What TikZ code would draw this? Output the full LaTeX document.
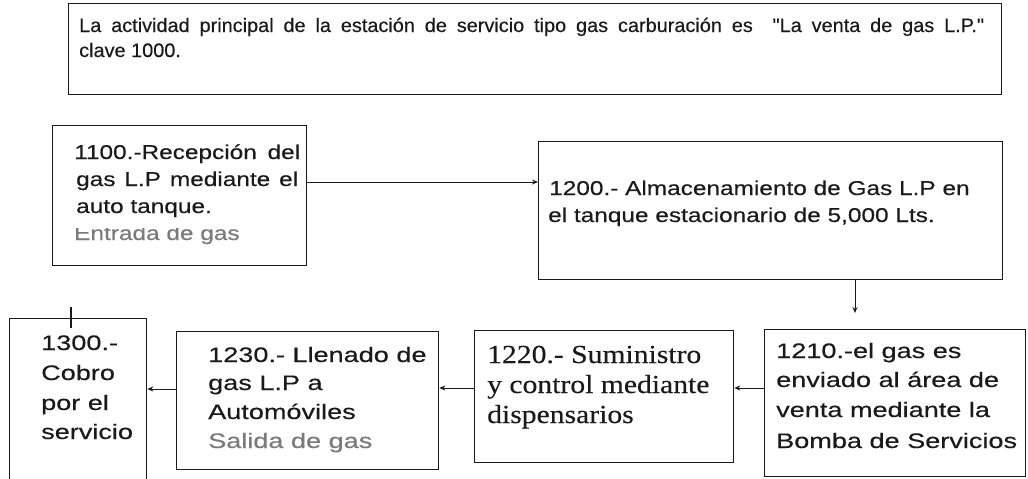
\documentclass[tikz,border=0pt]{standalone}
\usepackage{fontspec}
\usetikzlibrary{arrows.meta}
\newfontfamily\fTop[FakeStretch=1.02,FakeBold=0.3]{Liberation Sans}
\newfontfamily\fMid[FakeStretch=1.22,FakeBold=0.3]{Liberation Sans}
\newfontfamily\fBot[FakeStretch=1.29,FakeBold=0.3]{Liberation Sans}
\newfontfamily\fSerif[FakeStretch=1.14,FakeBold=0.3]{Liberation Serif}
\definecolor{ink}{HTML}{1A1A1A}
\definecolor{graytext}{HTML}{7A7A7A}
\tikzset{
  box/.style={draw=ink, line width=1.3pt, rectangle, inner sep=0pt, anchor=north west},
  ln/.style={anchor=base west, inner sep=0pt, text=ink},
  toptxt/.style={ln, font=\fTop\fontsize{19.5}{22}\selectfont},
  midtxt/.style={ln, font=\fMid\fontsize{20}{24}\selectfont},
  bottxt/.style={ln, font=\fBot\fontsize{21}{25}\selectfont},
  sertxt/.style={ln, font=\fSerif\fontsize{26}{28}\selectfont},
  arr/.style={draw=ink, line width=1pt, -{Stealth[length=6pt,width=5pt]}},
  tick/.style={draw=ink, line width=1.2pt}
}
\begin{document}
\begin{tikzpicture}[x=1pt,y=-1pt]
\useasboundingbox[fill=white] (0,0) rectangle (1028,479);
% boxes
\node[box, minimum width=933pt, minimum height=91pt] (btop) at (68,3) {};
\node[box, minimum width=254pt, minimum height=140pt] (b1100) at (52,125) {};
\node[box, minimum width=464pt, minimum height=138pt] (b1200) at (538,141) {};
\node[box, minimum width=137pt, minimum height=166pt] (b1300) at (9,318) {};
\node[box, minimum width=262pt, minimum height=138pt] (b1230) at (176,331) {};
\node[box, minimum width=259pt, minimum height=132pt] (b1220) at (474,330) {};
\node[box, minimum width=261pt, minimum height=147pt] (b1210) at (764,329) {};
% top text
\node[toptxt] (t0a) at (79,32) {\makebox[905pt][s]{La actividad principal de la estación de servicio tipo gas carburación es\ \ "La venta de gas L.P."}};
\node[toptxt] (t0b) at (79,57) {clave 1000.};
% 1100
\node[midtxt] (t1a) at (74,159) {\makebox[226pt][s]{1100.-Recepción del}};
\node[midtxt] (t1b) at (76,186) {\makebox[222pt][s]{gas L.P mediante el}};
\node[midtxt] (t1c) at (76,213) {auto tanque.};
\begin{scope}
\clip (60,228) rectangle (300,260);
\node[midtxt, text=graytext] (t1d) at (74,240) {Entrada de gas};
\end{scope}
% 1200
\node[midtxt] (t2a) at (549,195) {1200.- Almacenamiento de Gas L.P en};
\node[midtxt] (t2b) at (548,222) {el tanque estacionario de 5,000 Lts.};
% 1210
\node[bottxt] (t3a) at (776,358) {1210.-el gas es};
\node[bottxt] (t3b) at (776,387) {enviado al área de};
\node[bottxt] (t3c) at (776,417) {venta mediante la};
\node[bottxt] (t3d) at (776,448) {Bomba de Servicios};
% 1220
\node[sertxt] (t4a) at (487,363) {1220.- Suministro};
\node[sertxt] (t4b) at (487,393) {y control mediante};
\node[sertxt] (t4c) at (487,423) {dispensarios};
% 1230
\node[bottxt] (t5a) at (208,362) {1230.- Llenado de};
\node[bottxt] (t5b) at (208,390) {gas L.P a};
\node[bottxt] (t5c) at (208,419) {Automóviles};
\node[bottxt, text=graytext] (t5d) at (208,448) {Salida de gas};
% 1300
\node[bottxt] (t6a) at (41,350) {1300.-};
\node[bottxt] (t6b) at (41,380) {Cobro};
\node[bottxt] (t6c) at (41,410) {por el};
\node[bottxt] (t6d) at (41,439) {servicio};
% connectors
\coordinate (a1) at (0,182);
\draw[arr] (b1100.east |- a1) -- (b1200.west |- a1);
\coordinate (a2) at (855,313);
\draw[arr] (b1200.south -| a2) -- (a2);
\coordinate (a3) at (0,388);
\draw[arr] (b1210.west |- a3) -- (b1220.east |- a3);
\draw[arr] (b1220.west |- a3) -- (b1230.east |- a3);
\coordinate (a4) at (0,389);
\draw[arr] (b1230.west |- a4) -- (b1300.east |- a4);
\coordinate (tk) at (71,307);
\draw[tick] (tk) -- (b1300.north -| tk) -- ++(0,10);
\end{tikzpicture}
\end{document}
